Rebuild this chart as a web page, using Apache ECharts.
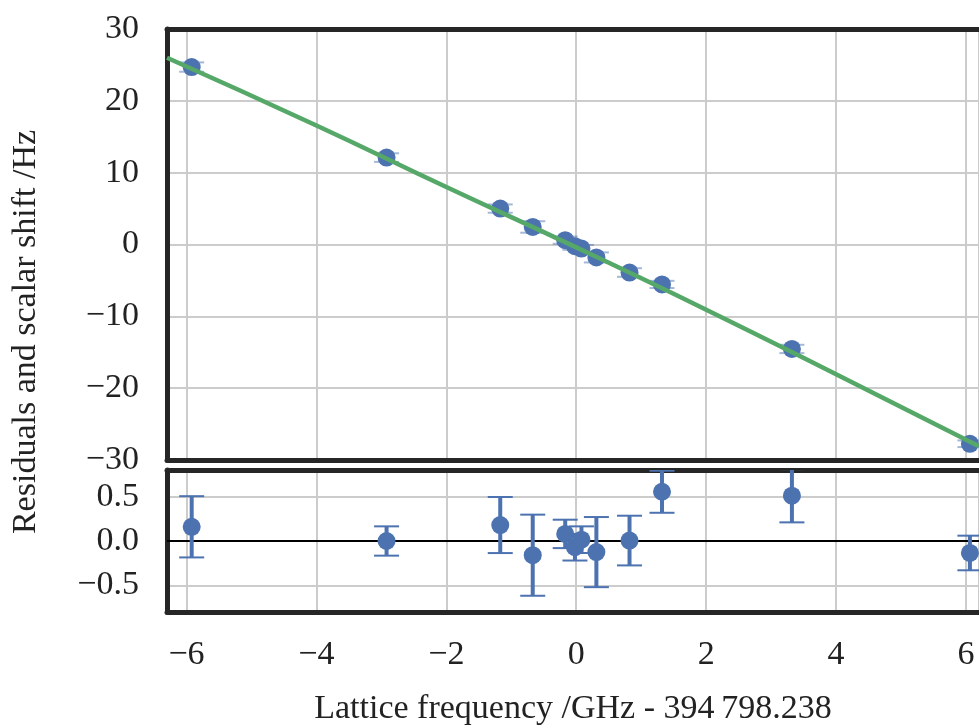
<!DOCTYPE html>
<html>
<head>
<meta charset="utf-8">
<script src="https://cdn.jsdelivr.net/npm/echarts@6/dist/echarts.min.js"></script>
<style>html,body{margin:0;padding:0;background:#fff}#chart{width:979px;height:727px}</style>
</head>
<body>
<div id="chart"></div>
<script>
// ---- data ----
const freq        = [-5.92, -2.92, -1.17, -0.67, -0.17, -0.02, 0.08, 0.31, 0.82, 1.32, 3.32, 6.06];
const shift       = [24.7, 12.1, 5.0, 2.44, 0.6, -0.24, -0.56, -1.8, -3.9, -5.56, -14.54, -27.74];
const shiftErr    = [0.65, 0.6, 0.58, 0.8, 0.5, 0.5, 0.5, 0.7, 0.6, 0.5, 0.58, 0.46];
const residual    = [0.16, 0.0, 0.18, -0.16, 0.08, -0.07, 0.015, -0.125, 0.005, 0.555, 0.51, -0.135];
const residualErr = [0.345, 0.165, 0.316, 0.457, 0.16, 0.15, 0.15, 0.395, 0.28, 0.237, 0.30, 0.195];
const fitX        = [-6.3, -4, -2, 0, 2, 4, 6.2];
const fitY        = [26.0, 16.57, 8.0, -0.4, -9.07, -18.06, -28.1];
const xTitle = 'Lattice frequency /GHz - 394\u2009798.238';
const yTitle = 'Residuals and scalar shift /Hz';

const BLUE = '#4C72B0', GREEN = '#55A868', FRAME = '#262626', GRID = '#cccccc';
const FONT = 'Liberation Serif';
const FS = 34;

const topPts = freq.map((x, i) => [x, shift[i], shiftErr[i]]);
const resPts = freq.map((x, i) => [x, residual[i], residualErr[i]]);
const fitPts = fitX.map((x, i) => [x, fitY[i]]);

function minus(s) { return String(s).replace('-', '\u2212'); }

function errRender(capW, stemW, capLw, color, stem) {
  return function (params, api) {
    const x = api.value(0), y = api.value(1), e = api.value(2);
    const t = api.coord([x, y + e]);
    const b = api.coord([x, y - e]);
    const ch = [];
    if (stem) ch.push({type: 'line', shape: {x1: t[0], y1: t[1], x2: b[0], y2: b[1]}, style: {stroke: color, lineWidth: stemW}});
    ch.push({type: 'line', shape: {x1: t[0] - capW / 2, y1: t[1], x2: t[0] + capW / 2, y2: t[1]}, style: {stroke: color, lineWidth: capLw}});
    ch.push({type: 'line', shape: {x1: b[0] - capW / 2, y1: b[1], x2: b[0] + capW / 2, y2: b[1]}, style: {stroke: color, lineWidth: capLw}});
    return {type: 'group', children: ch};
  };
}

const frameLine = {show: true, onZero: false, lineStyle: {color: FRAME, width: 5}};
const split = {show: true, lineStyle: {color: GRID, width: 2}};
const xCommon = {type: 'value', min: -6.3, max: 6.2, splitNumber: 6, axisTick: {show: false}};

const chart = echarts.init(document.getElementById('chart'), null, {renderer: 'canvas'});
chart.setOption({
  animation: false,
  backgroundColor: '#fff',
  textStyle: {fontFamily: FONT},
  grid: [
    {left: 167, right: 0, top: 29, height: 431},
    {left: 167, right: 0, top: 470, height: 143}
  ],
  xAxis: [
    Object.assign({}, xCommon, {gridIndex: 0, position: 'bottom', axisLine: frameLine, axisLabel: {show: false}, splitLine: split}),
    Object.assign({}, xCommon, {gridIndex: 0, position: 'top', axisLine: frameLine, axisLabel: {show: false}, splitLine: {show: false}}),
    Object.assign({}, xCommon, {gridIndex: 1, position: 'bottom', axisLine: frameLine, splitLine: split,
      axisLabel: {show: true, showMinLabel: false, showMaxLabel: false, margin: 26, fontSize: FS, fontFamily: FONT, color: '#222',
        formatter: v => (Math.abs(v - Math.round(v)) < 1e-9 ? minus(Math.round(v)) : '')},
      name: xTitle, nameLocation: 'middle', nameGap: 80,
      nameTextStyle: {fontSize: FS, fontFamily: FONT, color: '#222'}}),
    Object.assign({}, xCommon, {gridIndex: 1, position: 'top', axisLine: frameLine, axisLabel: {show: false}, splitLine: {show: false}})
  ],
  yAxis: [
    {type: 'value', gridIndex: 0, min: -30, max: 30, interval: 10, axisLine: frameLine, axisTick: {show: false}, splitLine: split,
      axisLabel: {margin: 28, fontSize: FS, fontFamily: FONT, color: '#222', formatter: v => minus(v)}},
    {type: 'value', gridIndex: 1, min: -0.8, max: 0.8, splitNumber: 3, axisLine: frameLine, axisTick: {show: false}, splitLine: split,
      axisLabel: {margin: 28, fontSize: FS, fontFamily: FONT, color: '#222', showMinLabel: false, showMaxLabel: false,
        formatter: v => (Math.abs(v * 2 - Math.round(v * 2)) < 1e-9 ? minus(v.toFixed(1)) : '')}}
  ],
  graphic: [
    {type: 'text', x: 26, y: 332, rotation: Math.PI / 2,
      style: {text: yTitle, fill: '#222', font: FS + 'px "' + FONT + '"', align: 'center', verticalAlign: 'middle'}}
  ],
  series: [
    {type: 'custom', name: 'shiftErr', xAxisIndex: 0, yAxisIndex: 0, data: topPts, clip: true, z: 2,
      renderItem: errRender(25, 2, 2, 'rgba(76,114,176,0.5)', true), encode: {x: 0, y: 1}},
    {type: 'scatter', name: 'shift', xAxisIndex: 0, yAxisIndex: 0, data: topPts.map(p => [p[0], p[1]]),
      symbolSize: 18, itemStyle: {color: BLUE, opacity: 1}, z: 3},
    {type: 'line', name: 'fit', xAxisIndex: 0, yAxisIndex: 0, data: fitPts, smooth: true, showSymbol: false, symbol: 'none',
      lineStyle: {color: GREEN, width: 4.5}, z: 4},
    {type: 'custom', name: 'residualErr', xAxisIndex: 2, yAxisIndex: 1, data: resPts, clip: true, z: 3,
      renderItem: errRender(25, 4, 2, BLUE, true), encode: {x: 0, y: 1},
      markLine: {silent: true, symbol: 'none', label: {show: false}, z: 2,
        lineStyle: {color: '#000', width: 2, type: 'solid'}, data: [{yAxis: 0}]}},
    {type: 'scatter', name: 'residual', xAxisIndex: 2, yAxisIndex: 1, data: resPts.map(p => [p[0], p[1]]),
      symbolSize: 18, itemStyle: {color: BLUE, opacity: 1}, z: 4}
  ]
});
</script>
</body>
</html>
